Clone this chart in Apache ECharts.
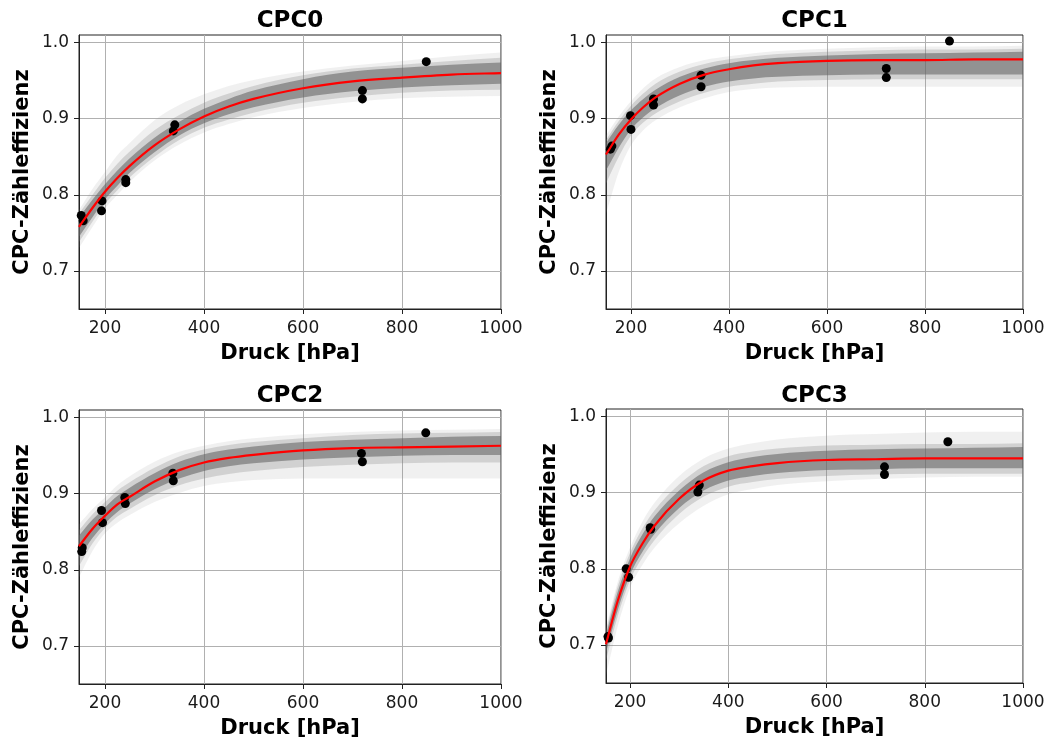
<!DOCTYPE html>
<html><head><meta charset="utf-8">
<script src="https://cdn.jsdelivr.net/npm/echarts@6/dist/echarts.min.js"></script>
<style>html,body{margin:0;padding:0;background:#fff}#c{width:1055px;height:742px}</style>
</head><body><div id="c"></div>
<script>
// ---------- data ----------
const panelTitles = ['CPC0', 'CPC1', 'CPC2', 'CPC3'];
const xAxisName = 'Druck [hPa]';
const yAxisName = 'CPC-Zähleffizienz';
const xTickValues = [200, 400, 600, 800, 1000];
const yTickValues = [0.7, 0.8, 0.9, 1.0];
const xMinByPanel = [147.5, 149, 147.5, 151];
const pressureGridTail = [175, 200, 225, 250, 300, 350, 400, 450, 500, 600, 700, 800, 900, 1000];

const cpc0Points = [[152,0.773],[156,0.766],[194,0.792],[193,0.779],[242,0.820],[242,0.816],[338,0.884],[341,0.892],[720,0.937],[720,0.926],[849,0.975]];
const cpc0Fit       = [0.758,0.783,0.804,0.822,0.838,0.865,0.886,0.903,0.916,0.926,0.940,0.949,0.954,0.958,0.960];
const cpc0InnerLow  = [0.745,0.771,0.794,0.812,0.829,0.856,0.878,0.894,0.906,0.915,0.928,0.936,0.941,0.944,0.946];
const cpc0InnerHigh = [0.770,0.794,0.814,0.832,0.848,0.875,0.896,0.913,0.926,0.937,0.952,0.962,0.967,0.971,0.974];
const cpc0MidLow    = [0.738,0.765,0.788,0.806,0.823,0.850,0.872,0.888,0.899,0.908,0.921,0.929,0.934,0.937,0.938];
const cpc0MidHigh   = [0.775,0.800,0.822,0.841,0.857,0.885,0.905,0.921,0.933,0.943,0.957,0.966,0.971,0.976,0.980];
const cpc0OuterLow  = [0.730,0.758,0.782,0.800,0.817,0.845,0.866,0.882,0.893,0.902,0.914,0.922,0.927,0.929,0.930];
const cpc0OuterHigh = [0.780,0.808,0.830,0.852,0.868,0.898,0.918,0.932,0.943,0.951,0.962,0.970,0.976,0.982,0.987];

const cpc1Points = [[158,0.860],[161,0.864],[199,0.904],[200,0.886],[246,0.926],[246,0.918],[343,0.957],[343,0.942],[721,0.966],[721,0.954],[850,1.002]];
const cpc1Fit       = [0.853,0.879,0.899,0.915,0.928,0.946,0.958,0.965,0.970,0.973,0.976,0.977,0.977,0.978,0.978];
const cpc1InnerLow  = [0.832,0.862,0.886,0.902,0.914,0.931,0.942,0.949,0.953,0.955,0.957,0.958,0.958,0.958,0.958];
const cpc1InnerHigh = [0.868,0.892,0.911,0.926,0.938,0.955,0.966,0.973,0.977,0.980,0.983,0.985,0.986,0.987,0.988];
const cpc1MidLow    = [0.815,0.850,0.878,0.895,0.907,0.923,0.934,0.942,0.946,0.949,0.951,0.952,0.952,0.952,0.952];
const cpc1MidHigh   = [0.872,0.897,0.917,0.933,0.946,0.962,0.972,0.978,0.982,0.985,0.988,0.990,0.991,0.991,0.992];
const cpc1OuterLow  = [0.775,0.830,0.865,0.885,0.898,0.915,0.927,0.935,0.939,0.941,0.942,0.942,0.942,0.942,0.942];
const cpc1OuterHigh = [0.878,0.903,0.923,0.940,0.953,0.968,0.977,0.982,0.986,0.989,0.992,0.994,0.995,0.995,0.996];

const cpc2Points = [[153,0.824],[154,0.829],[193,0.878],[195,0.862],[240,0.895],[241,0.887],[337,0.927],[338,0.917],[718,0.953],[720,0.942],[848,0.980]];
const cpc2Fit       = [0.831,0.854,0.871,0.886,0.896,0.916,0.931,0.941,0.947,0.951,0.957,0.960,0.961,0.962,0.963];
const cpc2InnerLow  = [0.815,0.842,0.861,0.876,0.887,0.906,0.920,0.930,0.936,0.940,0.945,0.948,0.950,0.951,0.951];
const cpc2InnerHigh = [0.845,0.866,0.882,0.897,0.908,0.927,0.942,0.952,0.958,0.962,0.968,0.971,0.973,0.975,0.976];
const cpc2MidLow    = [0.805,0.835,0.855,0.870,0.880,0.898,0.911,0.920,0.926,0.930,0.935,0.938,0.940,0.941,0.941];
const cpc2MidHigh   = [0.852,0.873,0.889,0.904,0.915,0.934,0.949,0.958,0.964,0.968,0.973,0.977,0.979,0.980,0.981];
const cpc2OuterLow  = [0.790,0.825,0.848,0.862,0.872,0.889,0.901,0.910,0.915,0.918,0.920,0.920,0.920,0.920,0.920];
const cpc2OuterHigh = [0.860,0.880,0.895,0.911,0.923,0.942,0.955,0.963,0.969,0.973,0.978,0.981,0.983,0.984,0.985];

const cpc3Points = [[155,0.711],[156,0.709],[192,0.800],[197,0.789],[241,0.854],[242,0.852],[338,0.901],[341,0.910],[718,0.934],[718,0.924],[847,0.967]];
const cpc3Fit       = [0.701,0.758,0.803,0.833,0.857,0.892,0.916,0.929,0.935,0.939,0.943,0.944,0.945,0.945,0.945];
const cpc3InnerLow  = [0.690,0.746,0.792,0.822,0.846,0.880,0.903,0.916,0.922,0.926,0.930,0.931,0.932,0.932,0.932];
const cpc3InnerHigh = [0.713,0.770,0.814,0.845,0.869,0.903,0.927,0.940,0.947,0.951,0.955,0.957,0.958,0.959,0.960];
const cpc3MidLow    = [0.680,0.738,0.785,0.815,0.838,0.872,0.895,0.908,0.914,0.918,0.922,0.924,0.925,0.925,0.925];
const cpc3MidHigh   = [0.718,0.777,0.821,0.853,0.877,0.911,0.935,0.948,0.954,0.958,0.962,0.963,0.964,0.964,0.965];
const cpc3OuterLow  = [0.660,0.725,0.775,0.805,0.828,0.860,0.883,0.898,0.905,0.910,0.915,0.918,0.920,0.921,0.921];
const cpc3OuterHigh = [0.722,0.783,0.828,0.862,0.887,0.922,0.945,0.958,0.965,0.970,0.975,0.977,0.979,0.980,0.980];

// ---------- layout / style ----------
const panels = [
  {points: cpc0Points, fit: cpc0Fit, inner: [cpc0InnerLow, cpc0InnerHigh], mid: [cpc0MidLow, cpc0MidHigh], outer: [cpc0OuterLow, cpc0OuterHigh]},
  {points: cpc1Points, fit: cpc1Fit, inner: [cpc1InnerLow, cpc1InnerHigh], mid: [cpc1MidLow, cpc1MidHigh], outer: [cpc1OuterLow, cpc1OuterHigh]},
  {points: cpc2Points, fit: cpc2Fit, inner: [cpc2InnerLow, cpc2InnerHigh], mid: [cpc2MidLow, cpc2MidHigh], outer: [cpc2OuterLow, cpc2OuterHigh]},
  {points: cpc3Points, fit: cpc3Fit, inner: [cpc3InnerLow, cpc3InnerHigh], mid: [cpc3MidLow, cpc3MidHigh], outer: [cpc3OuterLow, cpc3OuterHigh]}
];
const gridRects = [
  {left: 79, top: 35, width: 422, height: 274},
  {left: 606, top: 35, width: 417, height: 274},
  {left: 79, top: 410, width: 422, height: 274},
  {left: 606, top: 409, width: 417, height: 274}
];
const titleTops = [10, 10, 385, 385];
const FONT = 'DejaVu Sans';
const TXT = '#1a1a1a';

// monotone cubic (Fritsch-Carlson) path segments through pixel points
function monoSegments(pts) {
  const n = pts.length, d = [], m = [];
  for (let k = 0; k < n - 1; k++) d.push((pts[k + 1][1] - pts[k][1]) / (pts[k + 1][0] - pts[k][0]));
  m[0] = d[0]; m[n - 1] = d[n - 2];
  for (let k = 1; k < n - 1; k++) m[k] = (d[k - 1] * d[k] <= 0) ? 0 : (d[k - 1] + d[k]) / 2;
  for (let k = 0; k < n - 1; k++) {
    if (d[k] === 0) { m[k] = 0; m[k + 1] = 0; continue; }
    const a = m[k] / d[k], b = m[k + 1] / d[k], s = a * a + b * b;
    if (s > 9) { const t = 3 / Math.sqrt(s); m[k] = t * a * d[k]; m[k + 1] = t * b * d[k]; }
  }
  let out = '';
  for (let k = 0; k < n - 1; k++) {
    const h = pts[k + 1][0] - pts[k][0];
    out += ' C' + (pts[k][0] + h / 3) + ',' + (pts[k][1] + m[k] * h / 3) + ' ' +
           (pts[k + 1][0] - h / 3) + ',' + (pts[k + 1][1] - m[k + 1] * h / 3) + ' ' +
           pts[k + 1][0] + ',' + pts[k + 1][1];
  }
  return out;
}

function bandSeries(i, xs, lo, hi, color) {
  const rows = xs.map((x, k) => [x, lo[k], hi[k]]);
  return {
    type: 'custom', xAxisIndex: i, yAxisIndex: i, silent: true, z: 1,
    data: rows,
    encode: {x: 0, y: [1, 2]},
    renderItem: function (params, api) {
      if (params.dataIndex !== 0) return null;
      const lower = rows.map(r => api.coord([r[0], r[1]]));
      const upper = rows.map(r => api.coord([r[0], r[2]])).reverse();
      const path = 'M' + lower[0][0] + ',' + lower[0][1] + monoSegments(lower) +
        ' L' + upper[0][0] + ',' + upper[0][1] + monoSegments(upper) + ' Z';
      return {type: 'path', shape: {pathData: path}, style: {fill: color, stroke: null}};
    }
  };
}

function fitSeries(i, xs, ys) {
  const rows = xs.map((x, k) => [x, ys[k]]);
  return {
    type: 'custom', xAxisIndex: i, yAxisIndex: i, silent: true, z: 3,
    data: rows,
    encode: {x: 0, y: 1},
    renderItem: function (params, api) {
      if (params.dataIndex !== 0) return null;
      const pts = rows.map(r => api.coord(r));
      const path = 'M' + pts[0][0] + ',' + pts[0][1] + monoSegments(pts);
      return {type: 'path', shape: {pathData: path},
              style: {fill: null, stroke: '#ff0000', lineWidth: 2.2}};
    }
  };
}

const option = {
  animation: false,
  backgroundColor: '#fff',
  title: panelTitles.map((t, i) => ({
    text: t, left: gridRects[i].left + gridRects[i].width / 2, top: titleTops[i],
    textAlign: 'center', padding: 0,
    textStyle: {fontFamily: FONT, fontWeight: 'bold', fontSize: 23, color: '#000'}
  })),
  grid: gridRects.map(r => Object.assign({show: true, borderColor: '#222', borderWidth: 1, backgroundColor: 'transparent'}, r)),
  xAxis: gridRects.map((r, i) => ({
    type: 'value', gridIndex: i, min: xMinByPanel[i], max: 1000,
    name: xAxisName, nameLocation: 'middle', nameGap: 34,
    nameTextStyle: {fontFamily: FONT, fontWeight: 'bold', fontSize: 21, color: '#000'},
    axisLine: {show: true, lineStyle: {color: '#222', width: 1}},
    axisTick: {show: true, inside: false, length: 5, customValues: xTickValues, lineStyle: {color: '#222'}},
    axisLabel: {customValues: xTickValues, margin: 11, fontFamily: FONT, fontSize: 17, color: TXT, formatter: v => String(v)},
    splitLine: {show: true, lineStyle: {color: '#b0b0b0', width: 1}}
  })),
  yAxis: gridRects.map((r, i) => ({
    type: 'value', gridIndex: i, min: 0.65, max: 1.01,
    name: yAxisName, nameLocation: 'middle', nameGap: 46,
    nameTextStyle: {fontFamily: FONT, fontWeight: 'bold', fontSize: 21, color: '#000'},
    axisLine: {show: true, lineStyle: {color: '#222', width: 1}},
    axisTick: {show: true, inside: false, length: 5, customValues: yTickValues, lineStyle: {color: '#222'}},
    axisLabel: {customValues: yTickValues, margin: 10, fontFamily: FONT, fontSize: 17, color: TXT, formatter: v => v.toFixed(1)},
    splitLine: {show: true, lineStyle: {color: '#b0b0b0', width: 1}}
  })),
  series: []
};

panels.forEach((p, i) => {
  const xs = [xMinByPanel[i]].concat(pressureGridTail);
  option.series.push(bandSeries(i, xs, p.outer[0], p.outer[1], 'rgba(140,140,140,0.13)'));
  option.series.push(bandSeries(i, xs, p.mid[0], p.mid[1], 'rgba(128,128,128,0.28)'));
  option.series.push(bandSeries(i, xs, p.inner[0], p.inner[1], 'rgba(95,95,95,0.55)'));
  option.series.push({
    type: 'scatter', xAxisIndex: i, yAxisIndex: i, z: 2, symbolSize: 9,
    itemStyle: {color: '#000', opacity: 1}, data: p.points
  });
  option.series.push(fitSeries(i, xs, p.fit));
});

const chart = echarts.init(document.getElementById('c'), null, {renderer: 'canvas'});
chart.setOption(option);
</script>
</body></html>
